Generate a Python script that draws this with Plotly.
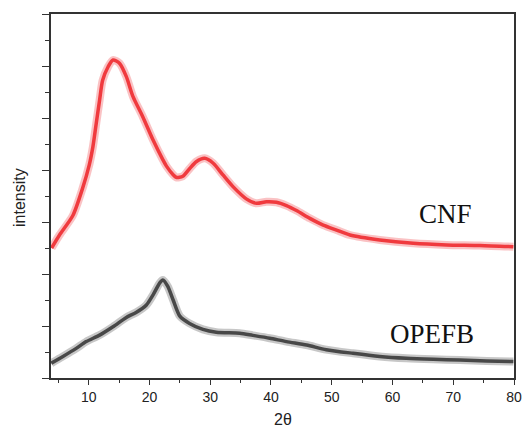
import plotly.graph_objects as go

# 2-theta positions (degrees) and relative intensities of the CNF pattern
cnf_2theta = [3.9, 5.2, 7.4, 9.0, 10.1, 10.7, 11.25, 11.8, 12.3, 13.2, 14.0, 15.1,
              16.2, 17.3, 18.9, 20.6, 22.2, 22.8, 23.9, 24.4, 25.5, 26.6, 27.7,
              29.1, 30.5, 32.1, 33.75, 36.0, 37.6, 39.25, 40.9, 42.55, 44.2,
              46.4, 48.6, 50.8, 53.0, 57.9, 63.4, 68.9, 74.4, 79.9]
cnf_intensity = [5.0, 5.5, 6.25, 7.3, 8.2, 8.9, 9.8, 10.69, 11.45, 11.97, 12.23, 12.1,
                 11.59, 10.82, 10.05, 9.15, 8.4, 8.15, 7.82, 7.72, 7.76, 8.05, 8.32,
                 8.45, 8.26, 7.81, 7.36, 6.88, 6.72, 6.78, 6.76, 6.63, 6.44,
                 6.14, 5.88, 5.69, 5.5, 5.31, 5.18, 5.12, 5.1, 5.05]

# 2-theta positions (degrees) and relative intensities of the OPEFB pattern
opefb_2theta = [3.85, 5.7, 7.95, 9.6, 11.8, 14.0, 16.2, 17.8, 19.5, 20.6, 21.7, 22.2,
                23.0, 23.9, 25.0, 26.6, 28.8, 31.0, 34.85, 37.0, 39.8, 42.55, 45.85,
                49.1, 53.5, 57.9, 62.3, 66.7, 71.1, 75.5, 79.9]
opefb_intensity = [0.57, 0.82, 1.14, 1.40, 1.65, 1.97, 2.33, 2.52, 2.81, 3.2, 3.66, 3.77,
                   3.53, 3.0, 2.38, 2.10, 1.87, 1.76, 1.72, 1.64, 1.53, 1.40, 1.27,
                   1.09, 0.95, 0.83, 0.76, 0.72, 0.69, 0.65, 0.63]

x_ticks = [10, 20, 30, 40, 50, 60, 70, 80]

RED = "rgb(240,58,62)"
GRAY = "rgb(72,72,72)"

fig = go.Figure()

for xs, ys, col in [(cnf_2theta, cnf_intensity, RED), (opefb_2theta, opefb_intensity, GRAY)]:
    # soft outer band for the noisy trace, then the core line
    fig.add_trace(go.Scatter(x=xs, y=ys, mode="lines",
                             line=dict(color=col, width=8, shape="spline", smoothing=0.7),
                             opacity=0.3, hoverinfo="skip", showlegend=False))
    fig.add_trace(go.Scatter(x=xs, y=ys, mode="lines",
                             line=dict(color=col, width=3.5, shape="spline", smoothing=0.7),
                             showlegend=False))

axis_col = "#333333"
fig.update_xaxes(range=[3.8, 80], tickvals=x_ticks, ticks="outside", ticklen=5,
                 tickwidth=1.2, tickcolor=axis_col, showline=True, linecolor=axis_col,
                 linewidth=1.5, mirror=True, showgrid=False, zeroline=False,
                 automargin=False,
                 tickfont=dict(family="Liberation Sans, Arial", size=14, color="#222"),
                 minor=dict(dtick=5, tick0=0, ticks="outside", ticklen=3, tickcolor=axis_col,
                            showgrid=False))
fig.update_yaxes(range=[0, 14], dtick=2, tick0=0, ticks="outside", ticklen=7,
                 tickwidth=1.2, tickcolor=axis_col, showline=True, linecolor=axis_col,
                 linewidth=1.5, mirror=True, showgrid=False, zeroline=False,
                 showticklabels=False, automargin=False,
                 minor=dict(dtick=1, tick0=0, ticks="outside", ticklen=4, tickcolor=axis_col,
                            showgrid=False))

serif = dict(family="Liberation Serif, Times New Roman", size=27, color="#111")
fig.add_annotation(x=68.7, y=6.3, text="CNF", showarrow=False, font=serif)
fig.add_annotation(x=66.5, y=1.7, text="OPEFB", showarrow=False, font=serif)

sans = dict(family="Liberation Sans, Arial", size=16, color="#222")
fig.add_annotation(xref="paper", yref="paper", x=0.5, y=0, yshift=-41, text="2θ",
                   showarrow=False, font=sans, xanchor="center", yanchor="middle")
fig.add_annotation(xref="paper", yref="paper", x=0, y=0.5, xshift=-32, yshift=-2,
                   text="intensity", textangle=-90, showarrow=False, font=sans,
                   xanchor="center", yanchor="middle")

fig.update_layout(width=524, height=430, margin=dict(l=51, r=10, t=14, b=52),
                  plot_bgcolor="white", paper_bgcolor="white")

fig.write_html("out.html")
